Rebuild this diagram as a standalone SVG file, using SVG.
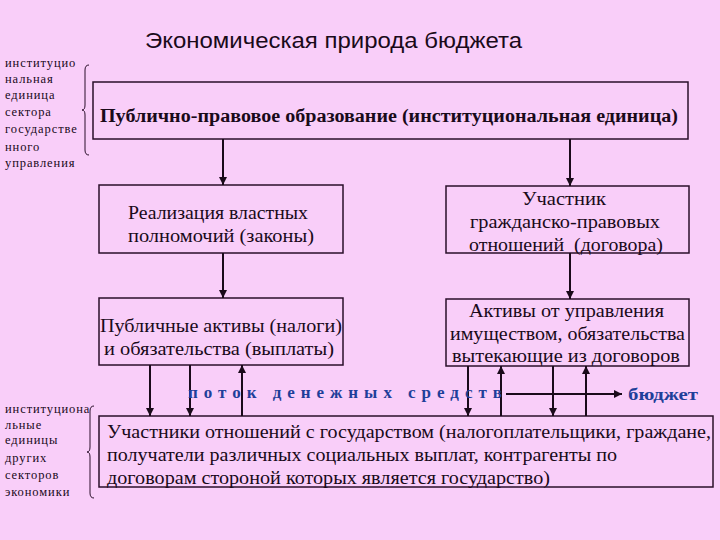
<svg xmlns="http://www.w3.org/2000/svg" width="720" height="540" viewBox="0 0 720 540">
<style>
.bg{fill:#F9CEF9}
.box{fill:none;stroke:#2a0f2a;stroke-width:1.5}
.t{font-family:"Liberation Serif","Times New Roman",serif;font-size:18px;fill:#1a0a1a;white-space:pre}
.tb{font-family:"Liberation Serif","Times New Roman",serif;font-size:18px;font-weight:bold;fill:#1a0a1a}
.sm{font-family:"Liberation Serif","Times New Roman",serif;font-size:12.5px;letter-spacing:0.9px;fill:#1a0a1a}
.title{font-family:"Liberation Sans",Arial,sans-serif;font-size:22px;fill:#1a0a1a}
.blue{font-family:"Liberation Serif","Times New Roman",serif;font-size:17px;font-weight:bold;fill:#1f3f9a}
.c{stroke:#1a0a1a;stroke-width:2;fill:none}
.br{stroke:#2a0f2a;stroke-width:1;fill:none}
</style>
<defs>
<marker id="ah" markerUnits="userSpaceOnUse" markerWidth="8" markerHeight="8" refX="8" refY="4" orient="auto">
<path d="M0,0 L8,4 L0,8 z" fill="#1a0a1a"/>
</marker>
</defs>
<rect class="bg" x="0" y="0" width="720" height="540"/>
<text class="title" x="145" y="48" textLength="377" lengthAdjust="spacingAndGlyphs">Экономическая природа бюджета</text>

<g id="label-top">
<text class="sm" x="5" y="67">институцио</text>
<text class="sm" x="5" y="83">нальная</text>
<text class="sm" x="5" y="99">единица</text>
<text class="sm" x="5" y="116">сектора</text>
<text class="sm" x="5" y="133">государстве</text>
<text class="sm" x="5" y="151">нного</text>
<text class="sm" x="5" y="167">управления</text>
<path class="br" d="M89,65 Q85,65 85,70 L85,105 Q85,110 82,110 Q85,110 85,115 L85,150 Q85,155 89,155"/>
</g>

<g id="label-bottom">
<text class="sm" x="5" y="413">институциона</text>
<text class="sm" x="5" y="429">льные</text>
<text class="sm" x="5" y="444">единицы</text>
<text class="sm" x="5" y="462">других</text>
<text class="sm" x="5" y="479">секторов</text>
<text class="sm" x="5" y="496">экономики</text>
<path class="br" d="M94,406 Q90,406 90,411 L90,447 Q90,452 87,452 Q90,452 90,457 L90,493 Q90,498 94,498"/>
</g>

<g id="node-public">
<rect class="box" x="93" y="82" width="595" height="57"/>
<text class="tb" x="100" y="122" textLength="578" lengthAdjust="spacingAndGlyphs">Публично-правовое образование (институциональная единица)</text>
</g>

<g id="node-power">
<rect class="box" x="99" y="185" width="244" height="68"/>
<text class="t" x="128" y="219" textLength="180" lengthAdjust="spacingAndGlyphs">Реализация властных</text>
<text class="t" x="128" y="242" textLength="186" lengthAdjust="spacingAndGlyphs">полномочий (законы)</text>
</g>

<g id="node-civil">
<rect class="box" x="446" y="186" width="243" height="67"/>
<text class="t" x="522" y="205" textLength="84" lengthAdjust="spacingAndGlyphs">Участник</text>
<text class="t" x="470" y="228" textLength="190" lengthAdjust="spacingAndGlyphs">гражданско-правовых</text>
<text class="t" x="469" y="251" textLength="194" lengthAdjust="spacingAndGlyphs">отношений  (договора)</text>
</g>

<g id="node-assets-public">
<rect class="box" x="99" y="298" width="244" height="67"/>
<text class="t" x="100" y="332" textLength="242" lengthAdjust="spacingAndGlyphs">Публичные активы (налоги)</text>
<text class="t" x="104" y="355" textLength="230" lengthAdjust="spacingAndGlyphs">и обязательства (выплаты)</text>
</g>

<g id="node-assets-civil">
<rect class="box" x="446" y="299" width="243" height="67"/>
<text class="t" x="469" y="317" textLength="195" lengthAdjust="spacingAndGlyphs">Активы от управления</text>
<text class="t" x="450" y="340" textLength="235" lengthAdjust="spacingAndGlyphs">имуществом, обязательства</text>
<text class="t" x="452" y="362" textLength="228" lengthAdjust="spacingAndGlyphs">вытекающие из договоров</text>
</g>

<g id="node-participants">
<rect class="box" x="99" y="416" width="614" height="71"/>
<text class="t" x="107" y="438" textLength="604" lengthAdjust="spacingAndGlyphs">Участники отношений с государством (налогоплательщики, граждане,</text>
<text class="t" x="107" y="461" textLength="510" lengthAdjust="spacingAndGlyphs">получатели различных социальных выплат, контрагенты по</text>
<text class="t" x="107" y="484" textLength="443" lengthAdjust="spacingAndGlyphs">договорам стороной которых является государство)</text>
</g>

<g id="connectors">
<line class="c" x1="223" y1="139" x2="223" y2="185" marker-end="url(#ah)"/>
<line class="c" x1="570" y1="139" x2="570" y2="186" marker-end="url(#ah)"/>
<line class="c" x1="223" y1="253" x2="223" y2="298" marker-end="url(#ah)"/>
<line class="c" x1="570" y1="253" x2="570" y2="299" marker-end="url(#ah)"/>
<line class="c" x1="150" y1="365" x2="150" y2="416" marker-end="url(#ah)"/>
<line class="c" x1="190" y1="365" x2="190" y2="416" marker-end="url(#ah)"/>
<line class="c" x1="242" y1="416" x2="242" y2="365" marker-end="url(#ah)"/>
<line class="c" x1="468" y1="366" x2="468" y2="416" marker-end="url(#ah)"/>
<line class="c" x1="501" y1="416" x2="501" y2="366" marker-end="url(#ah)"/>
<line class="c" x1="553" y1="366" x2="553" y2="416" marker-end="url(#ah)"/>
<line class="c" x1="586" y1="416" x2="586" y2="366" marker-end="url(#ah)"/>
<line class="c" x1="506" y1="394" x2="622" y2="394" marker-end="url(#ah)"/>
</g>

<g id="flow-label">
<text class="blue" x="188" y="398" textLength="314" lengthAdjust="spacing">поток денежных средств</text>
<text class="blue" x="628" y="400" textLength="70" lengthAdjust="spacingAndGlyphs">бюджет</text>
</g>
</svg>
